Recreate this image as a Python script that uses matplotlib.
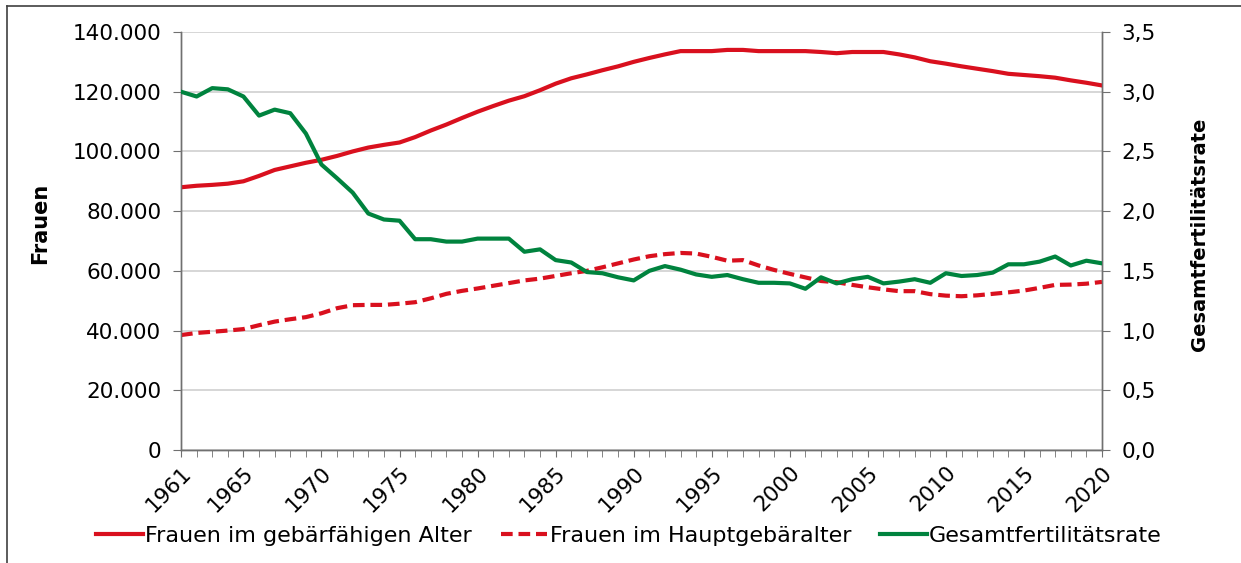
import matplotlib
matplotlib.use("Agg")
import matplotlib.pyplot as plt
from matplotlib.lines import Line2D
from matplotlib.ticker import FixedLocator, FuncFormatter, MultipleLocator

years = list(range(1961, 2021))

frauen_gebaerfaehig = [
    88000, 88500, 88800, 89200, 90000, 91800, 93800, 95000, 96200, 97200,
    98500, 100000, 101300, 102200, 103000, 104800, 107000, 109000, 111200, 113300,
    115200, 117000, 118500, 120500, 122700, 124500, 125800, 127200, 128500, 130000,
    131300, 132500, 133600, 133600, 133600, 134000, 134000, 133600, 133600, 133600,
    133600, 133300, 132900, 133300, 133300, 133300, 132500, 131500, 130200, 129400,
    128500, 127700, 126900, 126000, 125600, 125200, 124700, 123800, 123000, 122100,
]

frauen_hauptgebaeralter = [
    38500, 39200, 39600, 40000, 40500, 41800, 43000, 43800, 44500, 45800,
    47500, 48500, 48600, 48600, 49000, 49500, 50800, 52300, 53300, 54100,
    55000, 55900, 56800, 57400, 58300, 59200, 60000, 61200, 62500, 63800,
    64900, 65600, 66000, 65800, 64700, 63400, 63600, 61800, 60300, 59000,
    57800, 56600, 56200, 55300, 54500, 53800, 53200, 53200, 52200, 51700,
    51500, 51800, 52300, 52800, 53400, 54300, 55300, 55400, 55700, 56300,
]

gesamtfertilitaetsrate = [
    3.00, 2.96, 3.03, 3.02, 2.96, 2.80, 2.85, 2.82, 2.65, 2.39,
    2.275, 2.155, 1.98, 1.93, 1.92, 1.765, 1.765, 1.745, 1.745, 1.77,
    1.77, 1.77, 1.66, 1.68, 1.59, 1.57, 1.49, 1.48, 1.446, 1.42,
    1.50, 1.54, 1.51, 1.47, 1.45, 1.465, 1.43, 1.40, 1.40, 1.395,
    1.35, 1.446, 1.395, 1.43, 1.45, 1.395, 1.41, 1.43, 1.40, 1.48,
    1.457, 1.465, 1.485, 1.555, 1.555, 1.577, 1.62, 1.545, 1.585, 1.563,
]

xtick_years = [1961, 1965, 1970, 1975, 1980, 1985, 1990, 1995, 2000, 2005, 2010, 2015, 2020]

label_solid = "Frauen im gebärfähigen Alter"
label_dashed = "Frauen im Hauptgebäralter"
label_green = "Gesamtfertilitätsrate"

RED = "#d9101e"
GREEN = "#00833e"
FS_TICK = 15.5
FS_LEG = 16

plt.rcParams['font.family'] = ['DejaVu Sans']

fig = plt.figure(figsize=(12.41, 5.63), dpi=100)
ax = fig.add_axes([181/1241, 1-450/563, (1102-181)/1241, (450-32)/563])
ax2 = ax.twinx()

ax.plot(years, frauen_gebaerfaehig, color=RED, lw=3, zorder=3)
ax.plot(years, frauen_hauptgebaeralter, color=RED, lw=3, dashes=(2.8, 1.4), zorder=3)
ax2.plot(years, gesamtfertilitaetsrate, color=GREEN, lw=3, zorder=3)

ax.set_xlim(1961, 2020)
ax.set_ylim(0, 140000)
ax2.set_ylim(0, 3.5)

ax.yaxis.set_major_locator(MultipleLocator(20000))
ax.yaxis.set_major_formatter(FuncFormatter(lambda v, p: f"{int(v):,}".replace(",", ".")))
ax2.yaxis.set_major_locator(MultipleLocator(0.5))
ax2.yaxis.set_major_formatter(FuncFormatter(lambda v, p: f"{v:.1f}".replace(".", ",")))

ax.xaxis.set_major_locator(FixedLocator(xtick_years))
ax.xaxis.set_minor_locator(MultipleLocator(1))
ax.set_xticklabels([str(y) for y in xtick_years], rotation=45, ha='right',
                   rotation_mode='anchor', fontsize=FS_TICK)

ax.grid(axis='y', color='#d0d0d0', lw=1.2, zorder=0)
ax.set_axisbelow(True)

for a in (ax, ax2):
    a.spines['top'].set_visible(False)
    for s in ('left', 'right', 'bottom'):
        a.spines[s].set_color('#707070')
        a.spines[s].set_linewidth(1.0)

ax.tick_params(axis='y', direction='out', length=6, color='#707070', labelsize=FS_TICK, pad=8)
ax2.tick_params(axis='y', direction='out', length=6, color='#707070', labelsize=FS_TICK, pad=8)
ax.tick_params(axis='x', which='both', direction='out', length=5, color='#707070', pad=4)
ax.tick_params(axis='x', which='minor', length=5)

ax.set_ylabel("Frauen", fontsize=15, fontweight='bold')
ax.yaxis.set_label_coords((50-181)/921, (450-223)/418)
ax2.set_ylabel("Gesamtfertilitätsrate", fontsize=14, fontweight='bold')
ax2.yaxis.set_label_coords((1190-181)/921, (450-234)/418)

handles = [
    Line2D([], [], color=RED, lw=3),
    Line2D([], [], color=RED, lw=3, dashes=(2.8, 1.4)),
    Line2D([], [], color=GREEN, lw=3),
]
fig.legend(handles, [label_solid, label_dashed, label_green], loc='center',
           bbox_to_anchor=(629/1241, 1-536/563), ncol=3, frameon=False,
           fontsize=FS_LEG, handlelength=2.1, handletextpad=0.1, columnspacing=1.3)

fig.add_artist(Line2D([7/1241, 7/1241], [0, 1-6/563], transform=fig.transFigure,
                      color='#404040', lw=1.2))
fig.add_artist(Line2D([7/1241, 1], [1-6/563, 1-6/563], transform=fig.transFigure,
                      color='#404040', lw=1.2))

fig.savefig("out.png", dpi=100)
